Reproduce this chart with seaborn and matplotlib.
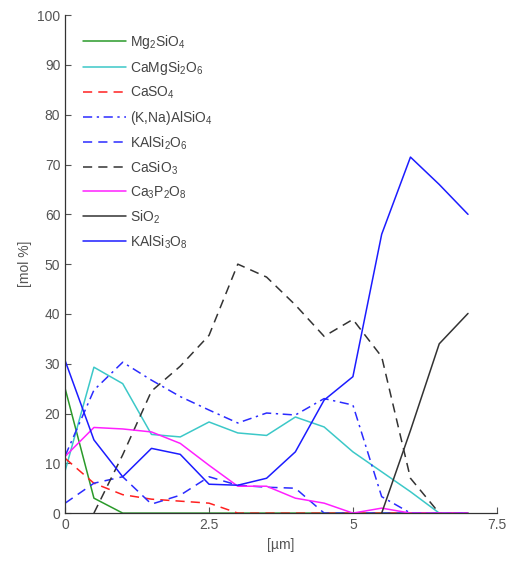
import numpy as np
import pandas as pd
import seaborn as sns
import matplotlib.pyplot as plt

# depth positions [um]
depth = [0, 0.5, 1, 1.5, 2, 2.5, 3, 3.5, 4, 4.5, 5, 5.5, 6, 6.5, 7]

mg2sio4 = [25, 3, 0, 0, 0, 0, 0, 0, 0, 0, 0, 0, 0, 0, 0]
camgsi2o6 = [8.5, 29.3, 26, 15.8, 15.3, 18.3, 16.1, 15.6, 19.3, 17.3, 12.3, 8.3, 4.3, 0, 0]
caso4 = [11, 6, 3.7, 2.8, 2.4, 2, 0, 0, 0, 0, 0, 0, 0, 0, 0]
knaalsio4 = [11.5, 24.7, 30.3, 26.7, 23.4, 20.7, 18.1, 20.1, 19.7, 23, 21.7, 3.3, 0, 0, 0]
kalsi2o6 = [2, 6, 7.3, 1.8, 3.6, 7.3, 5.6, 5.2, 5, 0, 0, 0, 0, 0, 0]
casio3 = [np.nan, 0, 11.7, 24.5, 29.5, 35.7, 50, 47.4, 41.8, 35.5, 38.9, 31.4, 7, 0, np.nan]
ca3p2o8 = [11.4, 17.2, 16.9, 16.3, 14, 9.6, 5.4, 5.4, 3, 2, 0, 1, 0, 0, 0]
sio2 = [np.nan, np.nan, np.nan, np.nan, np.nan, np.nan, np.nan, np.nan, np.nan, np.nan, np.nan, 0, 16.6, 34, 40.1]
kalsi3o8 = [30.6, 14.7, 7.3, 13, 11.8, 5.8, 5.6, 7, 12.3, 22.7, 27.4, 56, 71.5, 66, 60]

series = [
    (r'$\mathregular{Mg_2SiO_4}$', mg2sio4, '#2a9a2a', '-'),
    (r'$\mathregular{CaMgSi_2O_6}$', camgsi2o6, '#3cc8c8', '-'),
    (r'$\mathregular{CaSO_4}$', caso4, '#ff2020', (0, (6, 4))),
    (r'$\mathregular{(K{,}Na)AlSiO_4}$', knaalsio4, '#2b2bff', (0, (6, 3, 1.5, 3))),
    (r'$\mathregular{KAlSi_2O_6}$', kalsi2o6, '#2b2bff', (0, (6, 4))),
    (r'$\mathregular{CaSiO_3}$', casio3, '#333333', (0, (6, 4))),
    (r'$\mathregular{Ca_3P_2O_8}$', ca3p2o8, '#ff20ff', '-'),
    (r'$\mathregular{SiO_2}$', sio2, '#333333', '-'),
    (r'$\mathregular{KAlSi_3O_8}$', kalsi3o8, '#1c1cff', '-'),
]

sns.set_style("ticks")
plt.rcParams['font.family'] = ['Liberation Sans', 'DejaVu Sans']

fig = plt.figure(figsize=(5.09, 5.62), dpi=100)
ax = fig.add_axes([0.128, 0.087, 0.848, 0.886])

for label, vals, color, ls in series:
    df = pd.DataFrame({'x': depth, 'y': vals})
    sns.lineplot(data=df, x='x', y='y', ax=ax, color=color, linestyle=ls,
                 linewidth=1.1, label=label)

ax.set_xlim(0, 7.5)
ax.set_ylim(0, 100)
ax.set_xticks([0, 2.5, 5, 7.5])
ax.set_xticklabels(['0', '2.5', '5', '7.5'])
ax.set_yticks(range(0, 101, 10))
ax.tick_params(direction='in', colors='#555555', labelsize=10, length=4, width=0.8)
for s in ['top', 'right']:
    ax.spines[s].set_visible(False)
for s in ['left', 'bottom']:
    ax.spines[s].set_color('#333333')
    ax.spines[s].set_linewidth(0.9)
ax.set_xlabel('[µm]', fontsize=10, color='#555555')
ax.set_ylabel('[mol %]', fontsize=10, color='#555555')

leg = ax.legend(loc='upper left', frameon=False, fontsize=10, handlelength=3.1,
                labelspacing=0.55, borderaxespad=0.9, handletextpad=0.25)
for t in leg.get_texts():
    t.set_color('#444444')

fig.savefig('out.png', dpi=100)
